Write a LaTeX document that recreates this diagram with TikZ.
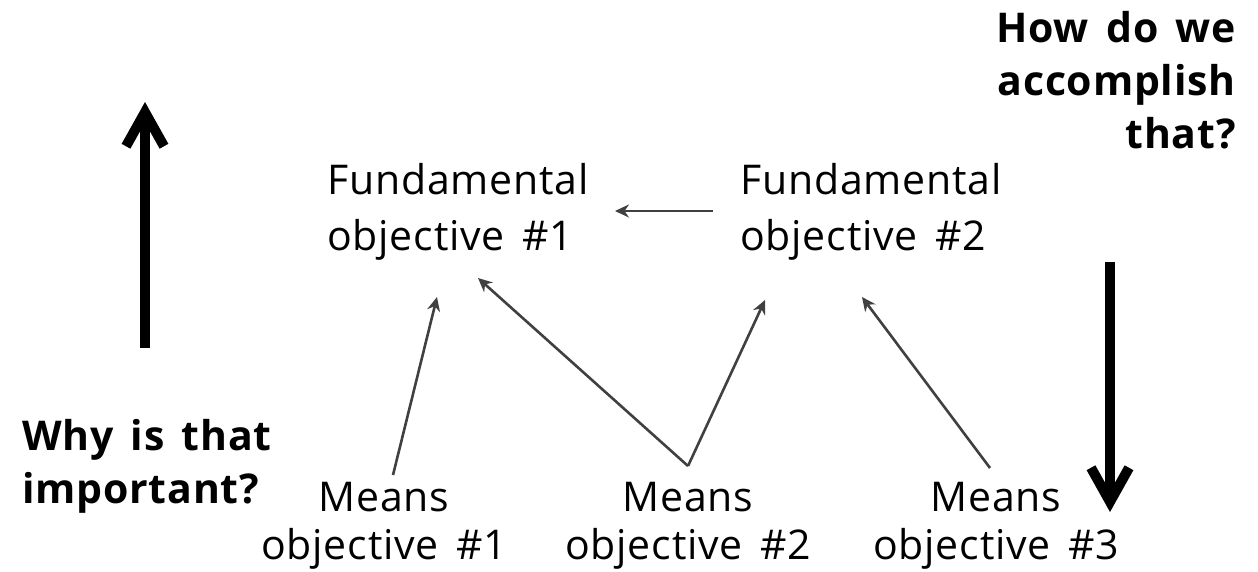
\documentclass[tikz,border=0pt]{standalone}
\usepackage{fontspec}
\setmainfont{Open Sans}[LetterSpace=2, WordSpace=1.5]
\usetikzlibrary{arrows.meta}

\begin{document}
\begin{tikzpicture}[x=1pt,y=-1pt,
    every node/.style={inner sep=0pt},
    obj/.style={font=\fontsize{41}{56}\selectfont, align=left},
    meansobj/.style={font=\fontsize{41}{48}\selectfont, align=center},
    question/.style={font=\fontsize{41}{53}\selectfont\bfseries},
    link/.style={draw=black!75, line width=2.6pt, -{Stealth[length=14pt,width=13pt]}},
    bigarrow/.style={line width=10pt, -{Straight Barb[length=34pt,width=38pt]}}]
    \useasboundingbox (0,0) rectangle (1258,571);
    % objectives
    \node[obj, anchor=north west] (fund1) at (327,163) {Fundamental\\objective \#1};
    \node[obj, anchor=north west] (fund2) at (740,163) {Fundamental\\objective \#2};
    \node[meansobj, anchor=north] (means1) at (384,482) {Means\\objective \#1};
    \node[meansobj, anchor=north] (means2) at (688,482) {Means\\objective \#2};
    \node[meansobj, anchor=north] (means3) at (996,482) {Means\\objective \#3};
    % questions
    \node[question, align=right, anchor=north east] (how) at (1236,11) {How do we\\accomplish\\that?};
    \node[question, align=left, anchor=north west] (why) at (22,419) {Why is that\\important?};
    % arrow ends
    \coordinate (f1a) at (437,297);
    \coordinate (f1b) at (478,278);
    \coordinate (f2a) at (765,300);
    \coordinate (f2b) at (862,297);
    \coordinate (f1side) at (615,211);
    \coordinate (f2side) at (713,211);
    \coordinate (upstart) at (145,348);
    \coordinate (upend) at (145,102);
    \coordinate (downstart) at (1110,262);
    \coordinate (downend) at (1110,512);
    % links
    \draw[link] (f2side) -- (f1side);
    \draw[link] ([xshift=9pt,yshift=7pt]means1.north) -- (f1a);
    \draw[link] ([yshift=16pt]means2.north) -- (f1b);
    \draw[link] ([yshift=16pt]means2.north) -- (f2a);
    \draw[link] ([xshift=-6pt,yshift=14pt]means3.north) -- (f2b);
    % why / how arrows
    \draw[bigarrow] (upstart) -- (upend);
    \draw[bigarrow] (downstart) -- (downend);
\end{tikzpicture}
\end{document}
